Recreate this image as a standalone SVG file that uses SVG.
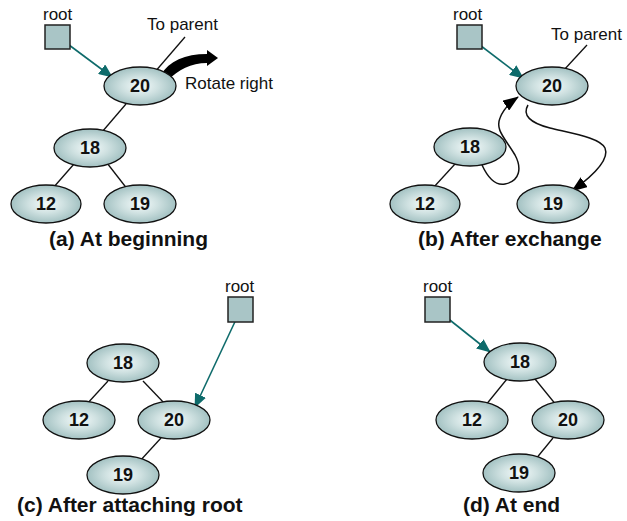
<svg xmlns="http://www.w3.org/2000/svg" width="627" height="521" viewBox="0 0 627 521">
<defs>
<radialGradient id="g" cx="50%" cy="50%" r="55%">
<stop offset="0%" stop-color="#f5fbfb"/>
<stop offset="45%" stop-color="#cfe1e1"/>
<stop offset="100%" stop-color="#9abbbc"/>
</radialGradient>
<marker id="ta" markerWidth="14" markerHeight="12" refX="13" refY="6" orient="auto" markerUnits="userSpaceOnUse">
<path d="M0,0 L14,6 L0,12 Z" fill="#0e6b6b"/>
</marker>
<marker id="ba" markerWidth="16" markerHeight="12" refX="15" refY="6" orient="auto" markerUnits="userSpaceOnUse">
<path d="M0,0 L16,6 L0,12 Z" fill="#000"/>
</marker>
</defs>
<style>
.n ellipse{fill:url(#g);stroke:#111;stroke-width:1.3}
.n text{font-family:"Liberation Sans",Arial,sans-serif;font-weight:bold;font-size:18px;text-anchor:middle;fill:#111}
.sq{fill:#a9c5c6;stroke:#222;stroke-width:1.5}
.lbl{font-family:"Liberation Sans",Arial,sans-serif;font-size:17px;fill:#111}
.cap{font-family:"Liberation Sans",Arial,sans-serif;font-size:21px;font-weight:bold;fill:#111}
.e{stroke:#111;stroke-width:1.3;fill:none}
.ra{stroke:#0e6b6b;stroke-width:1.6;fill:none;marker-end:url(#ta)}
.ca{stroke:#111;stroke-width:1.5;fill:none;marker-end:url(#ba)}
</style>

<g id="connectors">
<!-- (a) -->
<line class="e" x1="126" y1="104" x2="102" y2="132"/>
<line class="e" x1="74" y1="164" x2="53" y2="188"/>
<line class="e" x1="107" y1="163" x2="128" y2="190"/>
<line class="e" x1="154" y1="73" x2="185" y2="37"/>
<line class="ra" x1="57" y1="36" x2="112" y2="77"/>
<path d="M161,75 C169,61 185,54 207,54 L207,50 L218,58 L207,66 L207,63 C191,63 178,70 168,80 Z" fill="#000"/>
<!-- (b) -->
<line class="e" x1="455" y1="164" x2="433" y2="188"/>
<line class="e" x1="563" y1="71" x2="587" y2="45"/>
<line class="ra" x1="468" y1="36" x2="523" y2="78"/>
<path class="ca" d="M482,165 C488,178 495,186 505,184 C520,181 522,168 515,155 C505,138 495,130 500,118 C503,110 508,104 518,97"/>
<path class="ca" d="M528,105 C522,115 530,123 550,128 C575,134 600,138 605,148 C610,160 590,178 572,191"/>
<!-- (c) -->
<line class="e" x1="108" y1="381" x2="86" y2="405"/>
<line class="e" x1="143" y1="381" x2="166" y2="405"/>
<line class="e" x1="161" y1="438" x2="139" y2="462"/>
<line class="ra" x1="240" y1="311" x2="195" y2="407"/>
<!-- (d) -->
<line class="e" x1="507" y1="379" x2="485" y2="406"/>
<line class="e" x1="535" y1="379" x2="557" y2="406"/>
<line class="e" x1="553" y1="438" x2="535" y2="460"/>
<line class="ra" x1="436" y1="309" x2="490" y2="352"/>
</g>

<g id="panel-a">
<g id="a-root"><text class="lbl" x="43" y="20">root</text><rect class="sq" x="45" y="25" width="25" height="24"/></g>
<text class="lbl" x="147" y="30">To parent</text>
<text class="lbl" x="185" y="89">Rotate right</text>
<g id="a-20" class="n"><ellipse cx="140" cy="86" rx="36" ry="19"/><text x="140" y="92">20</text></g>
<g id="a-18" class="n"><ellipse cx="90" cy="148" rx="36" ry="19"/><text x="90" y="154">18</text></g>
<g id="a-12" class="n"><ellipse cx="46" cy="204" rx="35" ry="19"/><text x="46" y="210">12</text></g>
<g id="a-19" class="n"><ellipse cx="140" cy="204" rx="36" ry="19"/><text x="140" y="210">19</text></g>
<text class="cap" x="49" y="246">(a) At beginning</text>
</g>

<g id="panel-b">
<g id="b-root"><text class="lbl" x="453" y="20">root</text><rect class="sq" x="457" y="25" width="25" height="24"/></g>
<text class="lbl" x="551" y="40">To parent</text>
<g id="b-20" class="n"><ellipse cx="552" cy="86" rx="36" ry="19"/><text x="552" y="92">20</text></g>
<g id="b-18" class="n"><ellipse cx="470" cy="147" rx="36" ry="19"/><text x="470" y="153">18</text></g>
<g id="b-12" class="n"><ellipse cx="425" cy="204" rx="35" ry="19"/><text x="425" y="210">12</text></g>
<g id="b-19" class="n"><ellipse cx="553" cy="204" rx="36" ry="19"/><text x="553" y="210">19</text></g>
<text class="cap" x="418" y="246">(b) After exchange</text>
</g>

<g id="panel-c">
<g id="c-root"><text class="lbl" x="225" y="292">root</text><rect class="sq" x="228" y="297" width="25" height="25"/></g>
<g id="c-18" class="n"><ellipse cx="123" cy="363" rx="36" ry="19"/><text x="123" y="369">18</text></g>
<g id="c-12" class="n"><ellipse cx="79" cy="420" rx="36" ry="19"/><text x="79" y="426">12</text></g>
<g id="c-20" class="n"><ellipse cx="174" cy="420" rx="36" ry="19"/><text x="174" y="426">20</text></g>
<g id="c-19" class="n"><ellipse cx="123" cy="475" rx="36" ry="19"/><text x="123" y="481">19</text></g>
<text class="cap" x="17" y="512">(c) After attaching root</text>
</g>

<g id="panel-d">
<g id="d-root"><text class="lbl" x="423" y="292">root</text><rect class="sq" x="425" y="297" width="25" height="25"/></g>
<g id="d-18" class="n"><ellipse cx="520" cy="362" rx="36" ry="19"/><text x="520" y="368">18</text></g>
<g id="d-12" class="n"><ellipse cx="472" cy="420" rx="36" ry="19"/><text x="472" y="426">12</text></g>
<g id="d-20" class="n"><ellipse cx="568" cy="420" rx="36" ry="19"/><text x="568" y="426">20</text></g>
<g id="d-19" class="n"><ellipse cx="519" cy="473" rx="36" ry="19"/><text x="519" y="479">19</text></g>
<text class="cap" x="463" y="512">(d) At end</text>
</g>
</svg>
